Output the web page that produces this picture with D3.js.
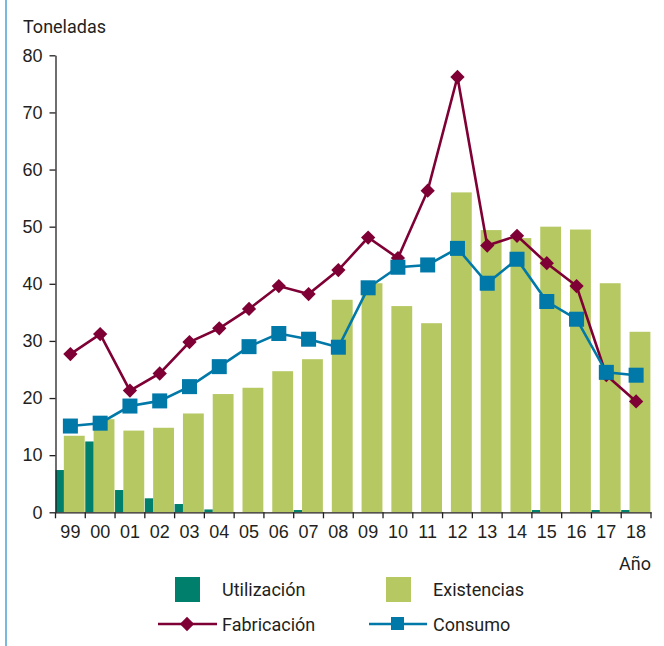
<!DOCTYPE html>
<html>
<head>
<meta charset="utf-8">
<script src="https://cdn.jsdelivr.net/npm/d3@7"></script>
<style>
  body { margin: 0; background: #fff; }
  svg { display: block; font-family: Roboto, "Liberation Sans", Arial, sans-serif; }
  .axis text { font-size: 18px; fill: #231f20; }
  .axis path, .axis line { stroke: #231f20; stroke-width: 1.3; }
</style>
</head>
<body>
<svg id="chart" width="664" height="646"></svg>
<script>
var years = ["99", "00", "01", "02", "03", "04", "05", "06", "07", "08",
             "09", "10", "11", "12", "13", "14", "15", "16", "17", "18"];
var utilizacion = [7.4, 12.4, 3.9, 2.45, 1.45, 0.5, 0, 0, 0.4, 0,
                   0, 0, 0, 0, 0, 0, 0.4, 0, 0.4, 0.4];
var existencias = [13.4, 16.3, 14.3, 14.8, 17.3, 20.7, 21.8, 24.7, 26.8, 37.2,
                   40.1, 36.1, 33.1, 56.0, 49.4, 48.0, 50.0, 49.5, 40.1, 31.6];
var fabricacion = [27.7, 31.2, 21.3, 24.3, 29.8, 32.2, 35.6, 39.6, 38.2, 42.4,
                   48.1, 44.5, 56.3, 76.2, 46.7, 48.4, 43.6, 39.6, 24.0, 19.4];
var consumo = [15.1, 15.6, 18.6, 19.5, 22.0, 25.5, 29.0, 31.3, 30.3, 28.9,
               39.3, 42.9, 43.3, 46.2, 40.1, 44.3, 36.9, 33.8, 24.5, 24.0];
var yTicks = [0, 10, 20, 30, 40, 50, 60, 70, 80];

var colUtil = "#007f6d";
var colExist = "#b5c862";
var colFab = "#7e0034";
var colCons = "#0078a8";
var textCol = "#231f20";

var svg = d3.select("#chart");

// thin blue frame line on the left
svg.append("line")
  .attr("x1", 6).attr("x2", 6)
  .attr("y1", 0).attr("y2", 646)
  .attr("stroke", "#4ea2d2")
  .attr("stroke-width", 1.5);

var xScale = d3.scaleBand()
  .domain(years)
  .range([55.5, 651])
  .padding(0);

var yScale = d3.scaleLinear()
  .domain([0, 80])
  .range([512.3, 55.3]);

var bw = xScale.bandwidth();
var g = svg.append("g");

// bars
g.selectAll(".util")
  .data(years)
  .enter().append("rect")
    .attr("class", "util")
    .attr("fill", colUtil)
    .attr("x", function(d) { return xScale(d); })
    .attr("width", bw * 0.285)
    .attr("y", function(d, i) { return yScale(utilizacion[i]); })
    .attr("height", function(d, i) { return yScale(0) - yScale(utilizacion[i]); });

g.selectAll(".exist")
  .data(years)
  .enter().append("rect")
    .attr("class", "exist")
    .attr("fill", colExist)
    .attr("x", function(d) { return xScale(d) + bw * 0.28; })
    .attr("width", bw * 0.70)
    .attr("y", function(d, i) { return yScale(existencias[i]); })
    .attr("height", function(d, i) { return yScale(0) - yScale(existencias[i]); });

// axes
g.append("g")
  .attr("class", "axis")
  .attr("transform", "translate(55.5, 0)")
  .call(d3.axisLeft(yScale).tickValues(yTicks).tickSize(6).tickPadding(7).tickSizeOuter(0));

var xAxis = g.append("g")
  .attr("class", "axis")
  .attr("transform", "translate(0, " + yScale(0) + ")")
  .call(d3.axisBottom(xScale).tickSize(0).tickPadding(13).tickSizeOuter(0));

// ticks between categories
xAxis.selectAll(".sep")
  .data(years.concat(["end"]))
  .enter().append("line")
    .attr("class", "sep")
    .attr("x1", function(d, i) { return 55.5 + i * bw; })
    .attr("x2", function(d, i) { return 55.5 + i * bw; })
    .attr("y1", 0).attr("y2", 6)
    .attr("stroke", textCol)
    .attr("stroke-width", 1.3);

var cx = function(d, i) { return xScale(years[i]) + bw / 2; };

// Fabricación
var line = d3.line()
  .x(cx)
  .y(function(d) { return yScale(d); });

g.append("path")
  .datum(fabricacion)
  .attr("fill", "none")
  .attr("stroke", colFab)
  .attr("stroke-width", 2.6)
  .attr("d", line);

g.selectAll(".fab")
  .data(fabricacion)
  .enter().append("path")
    .attr("class", "fab")
    .attr("fill", colFab)
    .attr("d", d3.symbol().type(d3.symbolDiamond2).size(130))
    .attr("transform", function(d, i) { return "translate(" + cx(d, i) + "," + yScale(d) + ")"; });

// Consumo
g.append("path")
  .datum(consumo)
  .attr("fill", "none")
  .attr("stroke", colCons)
  .attr("stroke-width", 2.6)
  .attr("d", line);

g.selectAll(".cons")
  .data(consumo)
  .enter().append("rect")
    .attr("class", "cons")
    .attr("fill", colCons)
    .attr("x", function(d, i) { return cx(d, i) - 7.5; })
    .attr("y", function(d) { return yScale(d) - 7.5; })
    .attr("width", 15)
    .attr("height", 15);

// axis titles
svg.append("text")
  .attr("x", 23).attr("y", 33)
  .attr("fill", textCol)
  .style("font-size", "18px")
  .text("Toneladas");

svg.append("text")
  .attr("x", 651).attr("y", 570)
  .attr("text-anchor", "end")
  .attr("fill", textCol)
  .style("font-size", "18px")
  .text("Año");

// legend
var legend = svg.append("g").style("font-size", "18px").attr("fill", textCol);

legend.append("rect").attr("x", 175).attr("y", 577).attr("width", 25).attr("height", 25).attr("fill", colUtil);
legend.append("text").attr("x", 222).attr("y", 596).text("Utilización");

legend.append("rect").attr("x", 386).attr("y", 577).attr("width", 25).attr("height", 25).attr("fill", colExist);
legend.append("text").attr("x", 433).attr("y", 596).text("Existencias");

legend.append("line").attr("x1", 158).attr("x2", 217).attr("y1", 624).attr("y2", 624)
  .attr("stroke", colFab).attr("stroke-width", 2.6);
legend.append("path")
  .attr("d", d3.symbol().type(d3.symbolDiamond2).size(130))
  .attr("transform", "translate(187,624)")
  .attr("fill", colFab);
legend.append("text").attr("x", 222).attr("y", 631).text("Fabricación");

legend.append("line").attr("x1", 369).attr("x2", 427).attr("y1", 624).attr("y2", 624)
  .attr("stroke", colCons).attr("stroke-width", 2.6);
legend.append("rect").attr("x", 391).attr("y", 617).attr("width", 13).attr("height", 13).attr("fill", colCons);
legend.append("text").attr("x", 433).attr("y", 631).text("Consumo");
</script>
</body>
</html>
